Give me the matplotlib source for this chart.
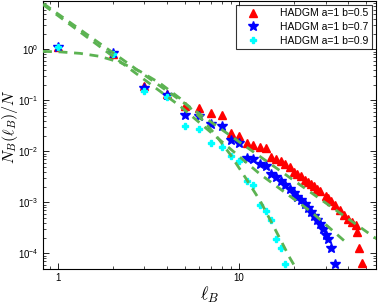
import numpy as np
import matplotlib
matplotlib.use('Agg')
import matplotlib.pyplot as plt
from matplotlib.ticker import LogLocator, NullFormatter, FixedLocator

plt.rcParams['font.family'] = ['Liberation Sans', 'DejaVu Sans']
plt.rcParams['mathtext.fontset'] = 'custom'
plt.rcParams['mathtext.rm'] = 'Liberation Sans'
plt.rcParams['mathtext.it'] = 'Liberation Sans:italic'

# datos
l_red = [1, 2, 3, 4, 5, 6, 7, 8, 9, 10, 11, 12, 13, 14, 15, 16, 17, 18, 19, 20,
         21, 22, 23, 24, 25, 26, 27, 28, 30, 31, 32, 34, 36, 38, 40, 42, 44, 45, 46, 48]
v_red = [1.09, 0.80, 0.188, 0.131, 0.076, 0.070, 0.056, 0.051, 0.0225, 0.0197,
         0.0144, 0.0131, 0.0120, 0.0115, 0.00763, 0.00697, 0.00637, 0.00556, 0.00486, 0.00388,
         0.00354, 0.00324, 0.00270, 0.00247, 0.00225, 0.00206, 0.00180, 0.00164, 0.00131, 0.00120,
         0.00105, 0.00087, 0.00070, 0.00056, 0.00046, 0.00041, 0.00035, 0.00026, 0.000125, 0.000064]

l_blue = [1, 2, 3, 4, 5, 6, 7, 8, 9, 10, 11, 12, 13, 14, 15, 16, 17, 18, 19, 20,
          21, 22, 23, 24, 25, 26, 27, 28, 29, 30, 31, 32, 34]
v_blue = [1.09, 0.84, 0.172, 0.125, 0.051, 0.049, 0.035, 0.032, 0.0164, 0.0144,
          0.0073, 0.0070, 0.0056, 0.0051, 0.00355, 0.00309, 0.00258, 0.00216, 0.00180, 0.00150,
          0.00125, 0.00109, 0.00091, 0.00076, 0.00063, 0.00053, 0.00044, 0.00037, 0.00030, 0.00023,
          0.00019, 0.000125, 0.000061]

l_cyan = [1, 2, 3, 4, 5, 6, 7, 8, 9, 10, 11, 12, 13, 14, 15, 16, 17, 18]
v_cyan = [1.09, 0.82, 0.150, 0.114, 0.032, 0.028, 0.0144, 0.012, 0.0080, 0.0064,
          0.0026, 0.0022, 0.00090, 0.00066, 0.00045, 0.00019, 0.000125, 0.000061]

# curvas de ajuste
l_fit1 = [0.83, 57.6]
v_fit1 = [7.9, 1.9e-4]

l_fit2 = [0.83, 4.7, 13.0, 25.0, 40.0]
v_fit2 = [7.5, 0.078, 0.0036, 6.5e-4, 1.5e-4]

l_fit3 = [0.826, 1.026, 1.323, 1.706, 2.20, 2.84, 3.66, 4.72, 6.09, 7.37, 8.92,
          10.8, 13.1, 15.8, 19.1, 20.9]
v_fit3 = [0.914, 0.893, 0.835, 0.729, 0.556, 0.370, 0.216, 0.109, 0.0464, 0.0216,
          0.00873, 0.00309, 0.00105, 0.000295, 7.98e-5, 4.64e-5]

etiquetas = ['HADGM a=1 b=0.5', 'HADGM a=1 b=0.7', 'HADGM a=1 b=0.9']

fig = plt.figure(figsize=(3.88, 3.06), dpi=100)
ax = fig.add_axes([43/388, 1-269/306, (376-43)/388, 268/306])

ax.plot(l_red, v_red, '^', color='red', ms=5.5, mec='red', label=etiquetas[0], zorder=2)
ax.plot(l_blue, v_blue, '*', color='blue', ms=7.5, mec='blue', label=etiquetas[1], zorder=2)
ax.plot(l_cyan, v_cyan, 'P', color='cyan', ms=5, mec='cyan', label=etiquetas[2], zorder=2)

verde = '#5cb352'
for lx, vy in [(l_fit1, v_fit1), (l_fit2, v_fit2), (l_fit3, v_fit3)]:
    ax.plot(lx, vy, color=verde, lw=2.0, ls=(0, (3.2, 2.4)), zorder=3)

ax.set_xscale('log')
ax.set_yscale('log')
ax.set_xlim(0.826, 57)
ax.set_ylim(4.9e-5, 8.9)

ax.xaxis.set_major_locator(FixedLocator([1, 10]))
ax.xaxis.set_major_formatter(plt.FixedFormatter(['1', '10']))
ax.xaxis.set_minor_locator(LogLocator(base=10, subs=np.arange(2, 10)))
ax.xaxis.set_minor_formatter(NullFormatter())
ax.yaxis.set_major_locator(FixedLocator([1e-4, 1e-3, 1e-2, 1e-1, 1]))
ax.yaxis.set_minor_locator(LogLocator(base=10, subs=np.arange(2, 10)))
ax.yaxis.set_minor_formatter(NullFormatter())

ax.tick_params(which='both', direction='in', top=True, right=True, labelsize=7, pad=3)
ax.tick_params(which='major', length=4, width=0.6)
ax.tick_params(which='minor', length=2, width=0.5)
for s in ax.spines.values():
    s.set_linewidth(0.8)

ax.set_xlabel(r'$\ell_B$', fontsize=13, math_fontfamily='cm', labelpad=1)
ax.set_ylabel(r'$N_B(\ell_B)/N$', fontsize=11.5, math_fontfamily='cm', labelpad=0)
ax.yaxis.set_label_coords(-0.069, 0.53)

leg = ax.legend(loc='upper right', fontsize=7.5, frameon=True, fancybox=False,
                edgecolor='black', borderpad=0.35, labelspacing=0.35, handletextpad=1.3,
                borderaxespad=0.35, handlelength=2.6)
leg.get_frame().set_linewidth(0.8)

fig.savefig('out.png', dpi=100)
